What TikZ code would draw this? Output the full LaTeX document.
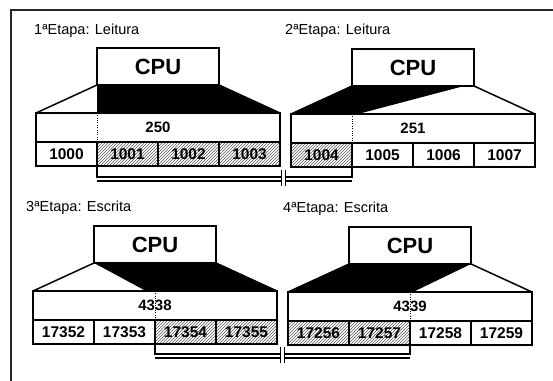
\documentclass[tikz,border=0pt]{standalone}
\usepackage{fontspec}
\setmainfont{Liberation Sans}
\usepackage{tikz}
\usetikzlibrary{positioning}
\usetikzlibrary{calc}
\usetikzlibrary{patterns}

\tikzset{
	cpubox/.style={draw,line width=1.5pt,fill=white,minimum width=122pt,minimum height=37pt,inner sep=0pt,outer sep=0pt,font=\fontsize{22}{22}\selectfont\bfseries},
	wordbox/.style={draw,line width=1.5pt,minimum width=244pt,minimum height=29pt,inner sep=0pt,outer sep=0pt,font=\fontsize{15}{15}\selectfont\bfseries},
	cellbox/.style={draw,line width=1.5pt,minimum width=61pt,minimum height=24pt,inner sep=0pt,outer sep=0pt,font=\fontsize{15.5}{15.5}\selectfont\bfseries},
	hatchcell/.style={cellbox,pattern=north east lines,pattern color=black!65},
	stagelabel/.style={anchor=west,inner sep=0pt,font=\fontsize{14.5}{15}\selectfont},
	busoutline/.style={line width=1.5pt,line join=miter},
	busline/.style={line width=2.2pt},
	buslinethin/.style={line width=1.1pt},
	framebox/.style={line width=1.6pt,black!85}
}

\begin{document}
\begin{tikzpicture}[x=1pt,y=-1pt,node distance=0pt]
			
			\useasboundingbox (0,0) rectangle (553,380);
			
			% Frame
			\draw[framebox] (11,381) -- (11,10) -- (554,10);
			
			% Stage 1
			\node[stagelabel] (st1) at (34,31) {1ªEtapa: Leitura};
			\node[cpubox] (cpu1) at (158,66.5) {CPU};
			\node[wordbox] (word1) at (158,127.5) {250};
			\node[cellbox,anchor=north west] (c1000) at (word1.south west) {1000};
			\node[hatchcell,right=of c1000] (c1001) {1001};
			\node[hatchcell,right=of c1001] (c1002) {1002};
			\node[hatchcell,right=of c1002] (c1003) {1003};
			\fill (cpu1.south west) -- (cpu1.south east) -- (word1.north east) -- (c1001.north west |- word1.north) -- cycle;
			\draw[busoutline] (word1.north west) -- (cpu1.south west) -- (cpu1.south east) -- (word1.north east);
			\draw[dotted] (c1001.north west) -- (c1001.north west |- word1.north);
			
			% Stage 2
			\node[stagelabel] (st2) at (285,31) {2ªEtapa: Leitura};
			\node[cpubox] (cpu2) at (413,67.5) {CPU};
			\node[wordbox] (word2) at (413,128.5) {251};
			\node[hatchcell,anchor=north west] (c1004) at (word2.south west) {1004};
			\node[cellbox,right=of c1004] (c1005) {1005};
			\node[cellbox,right=of c1005] (c1006) {1006};
			\node[cellbox,right=of c1006] (c1007) {1007};
			\fill (word2.north west) -- (cpu2.south west) -- ($(cpu2.south west)+(112,0)$) -- ($(c1005.north west |- word2.north)+(6,0)$) -- cycle;
			\draw[busoutline] (word2.north west) -- (cpu2.south west) -- (cpu2.south east) -- (word2.north east);
			\draw[dotted] (c1005.north west) -- (c1005.north west |- word2.north);
			
			% Bus 1-2
			\draw[busline] (c1001.south west) -- ++(0,11) -| (c1004.south east);
			\draw[buslinethin] ($(c1001.south west)+(0,15)$) -- ($(c1004.south east |- c1001.south west)+(0,15)$);
			\coordinate (gap1) at (283,178);
			\fill[white] ($(gap1)+(-2,-8)$) rectangle ($(gap1)+(2,8)$);
			\draw[thick] ($(gap1)+(-2,-8)$) -- ($(gap1)+(-2,8)$);
			\draw[thick] ($(gap1)+(2,-8)$) -- ($(gap1)+(2,8)$);
			
			% Stage 3
			\node[stagelabel] (st3) at (26,208) {3ªEtapa: Escrita};
			\node[cpubox] (cpu3) at (155,244.5) {CPU};
			\node[wordbox] (word3) at (155,305.5) {4338};
			\node[cellbox,anchor=north west] (c17352) at (word3.south west) {17352};
			\node[cellbox,right=of c17352] (c17353) {17353};
			\node[hatchcell,right=of c17353] (c17354) {17354};
			\node[hatchcell,right=of c17354] (c17355) {17355};
			\fill (cpu3.south west) -- (cpu3.south east) -- (word3.north east) -- ($(word3.north west)+(113,0)$) -- cycle;
			\draw[busoutline] (word3.north west) -- (cpu3.south west) -- (cpu3.south east) -- (word3.north east);
			\draw[dotted] (c17354.north west) -- (c17354.north west |- word3.north);
			
			% Stage 4
			\node[stagelabel] (st4) at (283,209) {4ªEtapa: Escrita};
			\node[cpubox] (cpu4) at (410,245.5) {CPU};
			\node[wordbox] (word4) at (410,306.5) {4339};
			\node[hatchcell,anchor=north west] (c17256) at (word4.south west) {17256};
			\node[hatchcell,right=of c17256] (c17257) {17257};
			\node[cellbox,right=of c17257] (c17258) {17258};
			\node[cellbox,right=of c17258] (c17259) {17259};
			\fill (word4.north west) -- (cpu4.south west) -- (cpu4.south east) -- ($(c17258.north west |- word4.north)+(3,0)$) -- cycle;
			\draw[busoutline] (word4.north west) -- (cpu4.south west) -- (cpu4.south east) -- (word4.north east);
			\draw[dotted] (c17258.north west) -- (c17258.north west |- word4.north);
			
			% Bus 3-4
			\draw[busline] (c17354.south west) -- ++(0,10) -| (c17257.south east);
			\draw[buslinethin] ($(c17354.south west)+(0,14)$) -- ($(c17257.south east |- c17354.south west)+(0,14)$);
			\coordinate (gap2) at (282,355);
			\fill[white] ($(gap2)+(-2,-8)$) rectangle ($(gap2)+(2,8)$);
			\draw[thick] ($(gap2)+(-2,-8)$) -- ($(gap2)+(-2,8)$);
			\draw[thick] ($(gap2)+(2,-8)$) -- ($(gap2)+(2,8)$);
			
		\end{tikzpicture}
\end{document}
